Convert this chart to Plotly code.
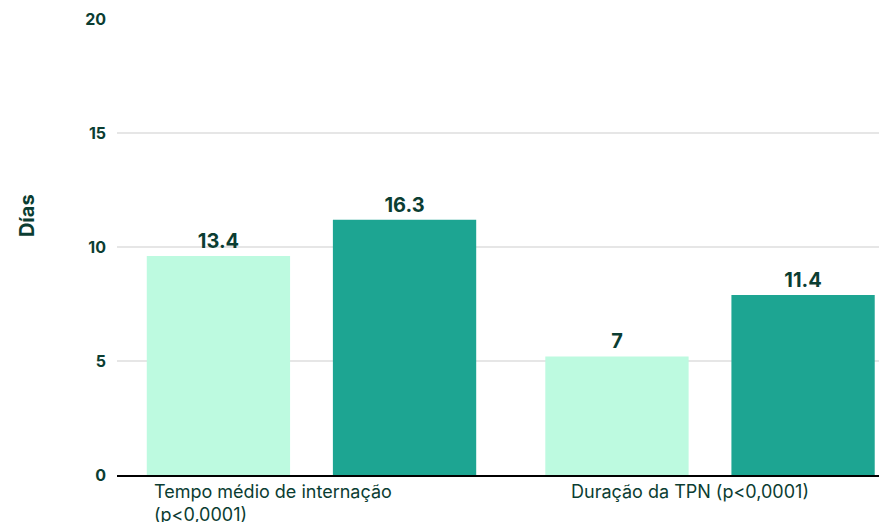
import plotly.graph_objects as go

# ── Data ──────────────────────────────────────────────────────────────────────
categories = ["Tempo médio de internação", "Duração da TPN"]
category_labels = ["Tempo médio de internação<br>(p<0,0001)", "Duração da TPN (p<0,0001)"]

# bar heights as read against the y axis; printed labels as shown above bars
series_a_height = [9.6, 5.2]
series_a_label = ["13.4", "7"]
series_b_height = [11.2, 7.9]
series_b_label = ["16.3", "11.4"]

y_ticks = [0, 5, 10, 15, 20]
y_title = "Días"

# ── Style ─────────────────────────────────────────────────────────────────────
_TEXT = "#0B3D32"
_MINT = "#BDFAE0"
_TEAL = "#1DA592"
_GRID = "#E6E6E6"
_FONT = "Inter, Roboto, sans-serif"

fig = go.Figure()
for heights, labels, color in [
    (series_a_height, series_a_label, _MINT),
    (series_b_height, series_b_label, _TEAL),
]:
    fig.add_trace(go.Bar(
        x=categories,
        y=heights,
        text=labels,
        textposition="outside",
        textfont=dict(size=20, color=_TEXT, family=_FONT, weight="bold"),
        marker=dict(color=color, line=dict(width=0)),
        cliponaxis=False,
        showlegend=False,
    ))

# x labels as annotations (left-aligned two-line label in the reference)
for cat, lab, shift in zip(categories, category_labels, [-38, -20]):
    fig.add_annotation(
        x=cat, y=0, xref="x", yref="y",
        text=lab, showarrow=False, align="left",
        xanchor="center", yanchor="top", xshift=shift, yshift=-4,
        font=dict(size=18, color=_TEXT, family=_FONT),
    )

fig.add_annotation(
    x=-0.118, y=0.568, xref="paper", yref="paper",
    text=y_title, textangle=-90, showarrow=False,
    xanchor="center", yanchor="middle",
    font=dict(size=20, color=_TEXT, family=_FONT, weight="bold"),
)

fig.update_layout(
    width=879, height=522,
    margin=dict(l=117, r=0, t=19, b=47),
    paper_bgcolor="white", plot_bgcolor="white",
    barmode="group", bargap=0.066, bargroupgap=0.23,
    font=dict(family=_FONT, color=_TEXT),
    xaxis=dict(
        range=[-0.488, 1.424],
        showticklabels=False, showgrid=False,
        showline=True, linecolor="#000000", linewidth=2,
        zeroline=False,
    ),
    yaxis=dict(
        range=[0, 20],
        tickvals=y_ticks,
        ticktext=[str(t) for t in y_ticks],
        tickfont=dict(size=16, color=_TEXT, family=_FONT, weight="bold"),
        ticklabelstandoff=10,
        showgrid=True, gridcolor=_GRID, gridwidth=2,
        zeroline=False, showline=False,
    ),
)

# drop the browser's default body margin so the figure sits at the page corner
fig.write_html(
    "out.html",
    config={"displayModeBar": False},
    post_script="document.body.style.margin='0';",
)
